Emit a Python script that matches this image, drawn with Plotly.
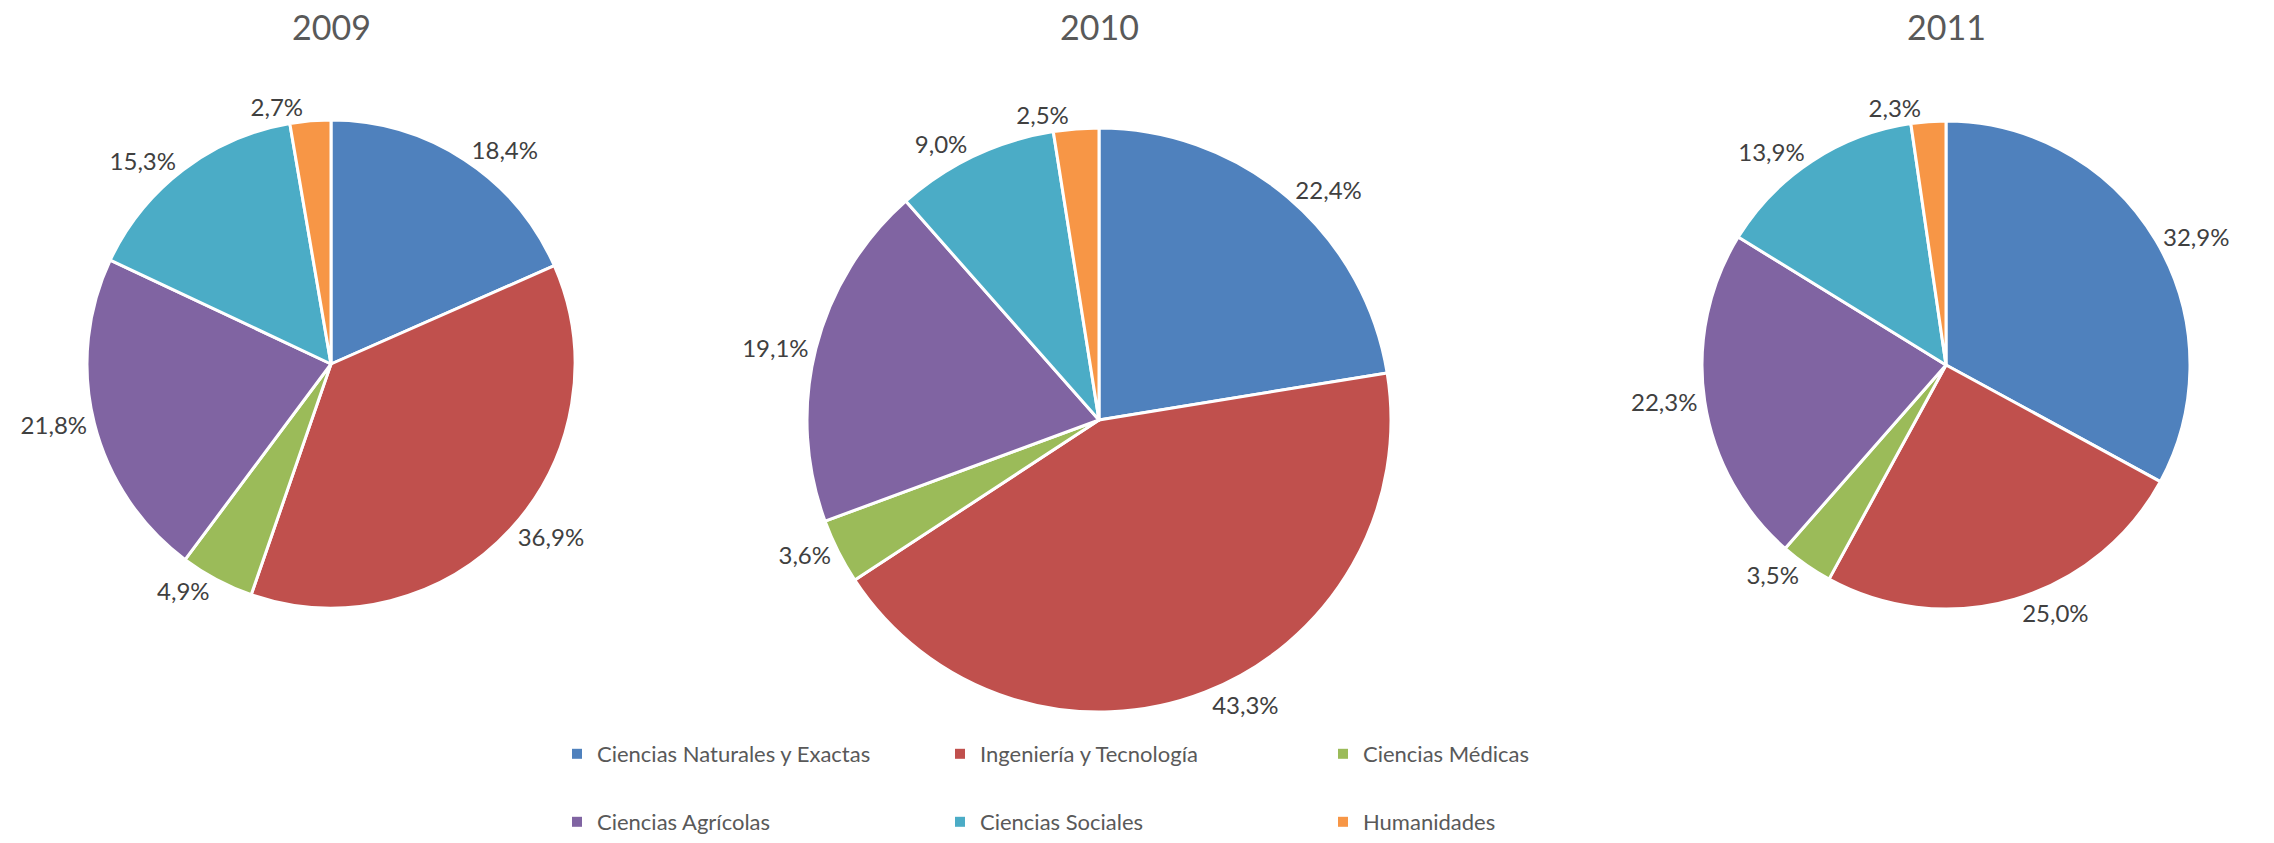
import plotly.graph_objects as go

years = ["2009", "2010", "2011"]
areas = ["Ciencias Naturales y Exactas", "Ingeniería y Tecnología", "Ciencias Médicas",
         "Ciencias Agrícolas", "Ciencias Sociales", "Humanidades"]
share_2009 = [18.4, 36.9, 4.9, 21.8, 15.3, 2.7]
share_2010 = [22.4, 43.3, 3.6, 19.1, 9.0, 2.5]
share_2011 = [32.9, 25.0, 3.5, 22.3, 13.9, 2.3]
colors = ["#4F81BD", "#C0504D", "#9BBB59", "#8064A2", "#4BACC6", "#F79646"]

W, H = 2274, 843
FONT = "Lato, Open Sans, sans-serif"

# pie placement in pixels: center x, center y (from top), radius
pies = [(331, 364, 244), (1099, 420, 292), (1946, 365, 244)]

fig = go.Figure()
for vals, (cx, cy, r) in zip([share_2009, share_2010, share_2011], pies):
    fig.add_trace(go.Pie(
        labels=areas, values=vals, sort=False, direction="clockwise", rotation=0,
        marker=dict(colors=colors, line=dict(color="white", width=3)),
        texttemplate="%{percent:.1%}", textposition="outside",
        outsidetextfont=dict(family=FONT, size=24, color="#404040"),
        showlegend=False, hoverinfo="label+percent",
        domain=dict(x=[(cx - r) / W, (cx + r) / W],
                    y=[(H - cy - r) / H, (H - cy + r) / H]),
    ))

# legend entries, split into two rows
for i, (name, c) in enumerate(zip(areas, colors)):
    fig.add_trace(go.Scatter(
        x=[None], y=[None], mode="markers", name=name,
        marker=dict(symbol="square", size=10, color=c),
        legend="legend" if i < 3 else "legend2",
    ))

leg = dict(orientation="h", xanchor="left", yanchor="bottom", x=557 / W,
           entrywidth=338, entrywidthmode="pixels", bgcolor="rgba(0,0,0,0)",
           font=dict(family=FONT, size=22, color="#595959"))
fig.update_layout(
    width=W, height=H, margin=dict(l=0, r=0, t=0, b=0),
    paper_bgcolor="white", plot_bgcolor="white",
    separators=",.",
    legend=dict(leg, y=68 / H),
    legend2=dict(leg, y=0),
    xaxis=dict(visible=False), yaxis=dict(visible=False),
)

for yr, (cx, cy, r) in zip(years, pies):
    fig.add_annotation(x=cx / W, y=(H - 26) / H, xref="paper", yref="paper",
                       xanchor="center", yanchor="middle",
                       text=yr, showarrow=False,
                       font=dict(family=FONT, size=34, color="#595959"))

fig.write_html("out.html", config={"displayModeBar": False},
               post_script="document.body.style.margin='0';")
